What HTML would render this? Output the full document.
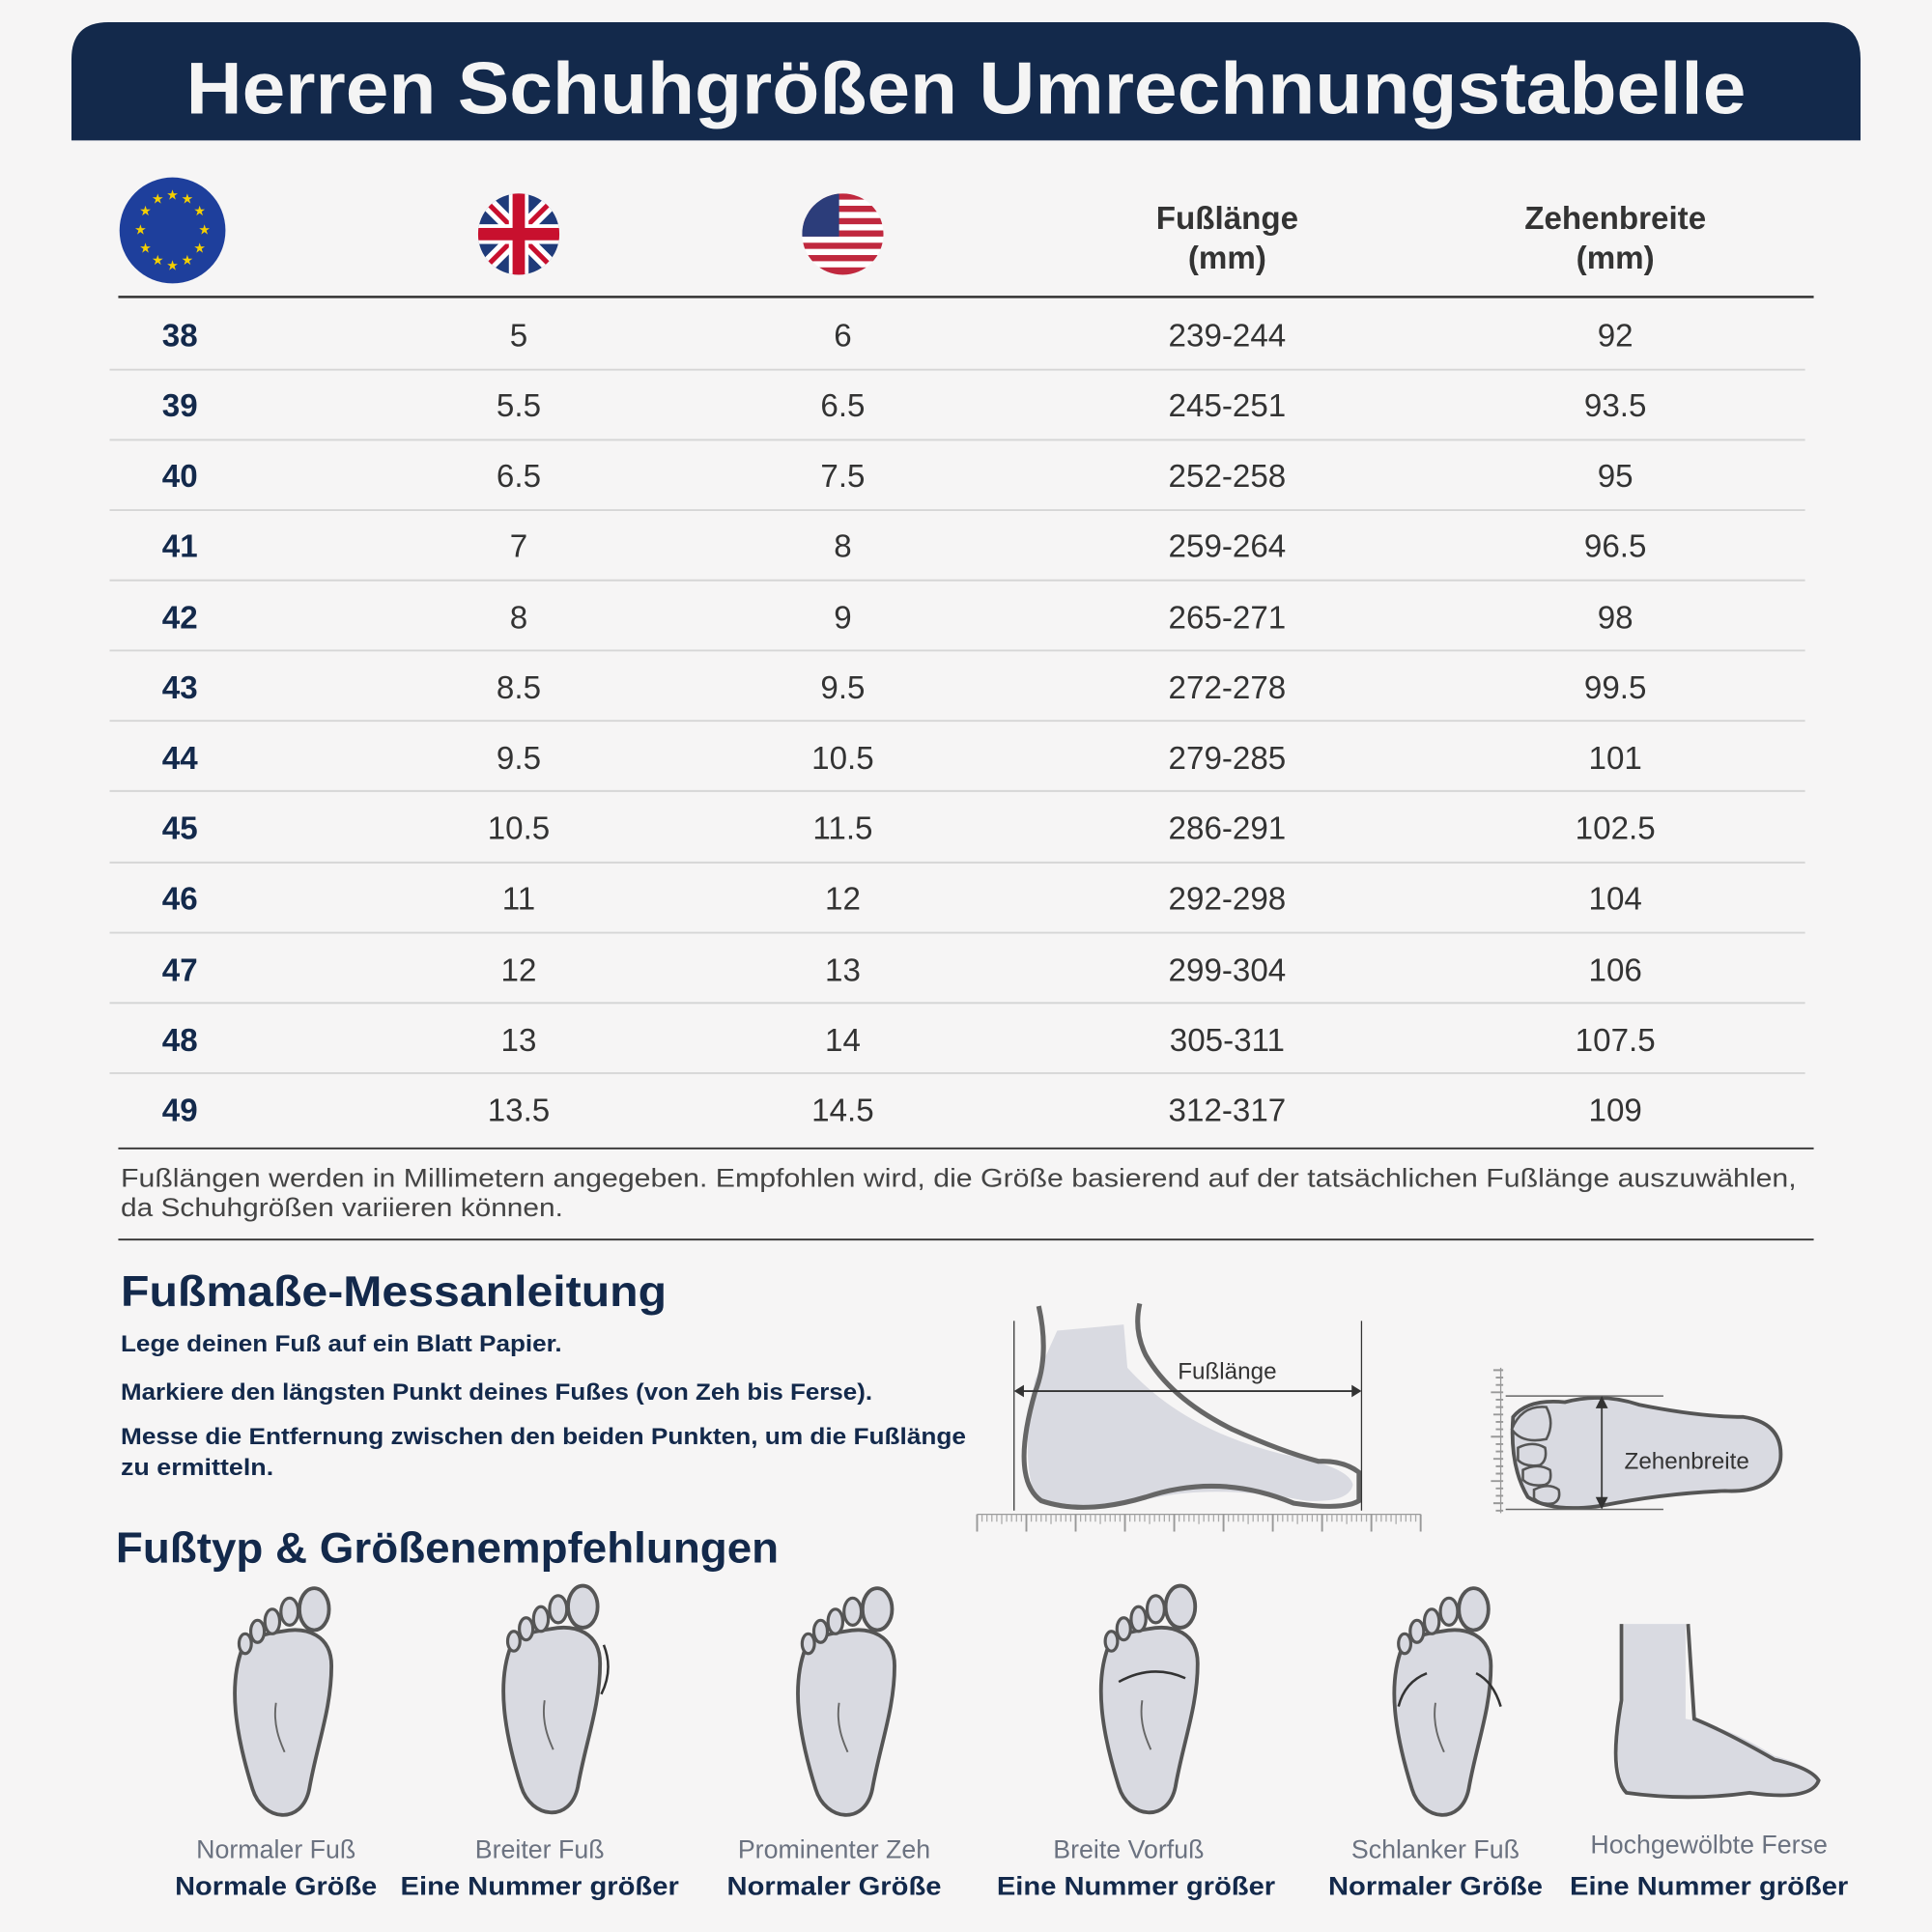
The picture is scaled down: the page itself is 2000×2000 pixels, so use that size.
<!DOCTYPE html>
<html><head><meta charset="utf-8"><style>
html,body{margin:0;padding:0;background:#f6f5f5;}
svg{display:block}
text{font-family:"Liberation Sans",sans-serif}
</style></head><body>
<svg width="2000" height="2000" viewBox="0 0 1568 1568" xmlns="http://www.w3.org/2000/svg">
<defs>
<clipPath id="cu"><circle cx="421" cy="190" r="33"/></clipPath>
<clipPath id="cs"><circle cx="684" cy="190" r="33"/></clipPath>
<g id="sole">
  <path d="M-32 45 C-44 75,-38 115,-24 160 C-16 186,16 190,22 160 C28 125,40 95,40 60 C40 35,20 28,0 32 C-15 34,-28 38,-32 45 Z" fill="#d9dae1" stroke="#555" stroke-width="3"/>
  <ellipse cx="26" cy="14" rx="12" ry="17" fill="#d9dae1" stroke="#555" stroke-width="3"/>
  <ellipse cx="6" cy="16" rx="7" ry="11" fill="#d9dae1" stroke="#555" stroke-width="2.5"/>
  <ellipse cx="-8" cy="24" rx="6" ry="10" fill="#d9dae1" stroke="#555" stroke-width="2.5"/>
  <ellipse cx="-20" cy="32" rx="5.5" ry="9" fill="#d9dae1" stroke="#555" stroke-width="2.5"/>
  <ellipse cx="-30" cy="42" rx="5" ry="8" fill="#d9dae1" stroke="#555" stroke-width="2.5"/>
  <path d="M-5 90 C-8 110,0 125,2 130" fill="none" stroke="#666" stroke-width="1.5"/>
</g>
</defs>
<rect width="1568" height="1568" fill="#f6f5f5"/>
<path d="M58 114 V48 Q58 18 88 18 H1480 Q1510 18 1510 48 V114 Z" fill="#13294b"/>
<text x="784" y="92" text-anchor="middle" font-size="60" font-weight="bold" fill="#f4f4f4" textLength="1266" lengthAdjust="spacingAndGlyphs">Herren Schuhgrößen Umrechnungstabelle</text>

<circle cx="140" cy="187" r="43" fill="#1e3f9c"/>
<g fill="#f5d000" font-size="11" text-anchor="middle">
<text x="140" y="162">★</text><text x="152" y="165">★</text><text x="162" y="175">★</text><text x="166" y="190">★</text><text x="162" y="205">★</text><text x="152" y="215">★</text><text x="140" y="219">★</text><text x="128" y="215">★</text><text x="118" y="205">★</text><text x="114" y="190">★</text><text x="118" y="175">★</text><text x="128" y="165">★</text>
</g>
<g clip-path="url(#cu)">
<rect x="388" y="157" width="66" height="66" fill="#1f3b7a"/>
<path d="M388 157 L454 223 M454 157 L388 223" stroke="#fff" stroke-width="12"/>
<path d="M388 157 L454 223 M454 157 L388 223" stroke="#c8102e" stroke-width="4"/>
<rect x="388" y="182" width="66" height="16" fill="#fff"/><rect x="413" y="157" width="16" height="66" fill="#fff"/>
<rect x="388" y="185" width="66" height="10" fill="#c8102e"/><rect x="416" y="157" width="10" height="66" fill="#c8102e"/>
</g>
<g clip-path="url(#cs)">
<rect x="651" y="157" width="66" height="66" fill="#fff"/>
<g fill="#c0283e"><rect x="651" y="157" width="66" height="5"/><rect x="651" y="167" width="66" height="5"/><rect x="651" y="177" width="66" height="5"/><rect x="651" y="187" width="66" height="5"/><rect x="651" y="197" width="66" height="5"/><rect x="651" y="207" width="66" height="5"/><rect x="651" y="217" width="66" height="6"/></g>
<rect x="651" y="157" width="30" height="35" fill="#2c3d7a"/>
</g>
<g font-size="26" font-weight="bold" fill="#333" text-anchor="middle">
<text x="996" y="186">Fußlänge</text><text x="996" y="218">(mm)</text>
<text x="1311" y="186">Zehenbreite</text><text x="1311" y="218">(mm)</text>
</g>
<line x1="96" y1="241" x2="1472" y2="241" stroke="#333" stroke-width="2"/>
<g stroke="#d6d6d6" stroke-width="1.5">
<line x1="89" y1="300" x2="1465" y2="300"/><line x1="89" y1="357" x2="1465" y2="357"/><line x1="89" y1="414" x2="1465" y2="414"/><line x1="89" y1="471" x2="1465" y2="471"/><line x1="89" y1="528" x2="1465" y2="528"/><line x1="89" y1="585" x2="1465" y2="585"/><line x1="89" y1="642" x2="1465" y2="642"/><line x1="89" y1="700" x2="1465" y2="700"/><line x1="89" y1="757" x2="1465" y2="757"/><line x1="89" y1="814" x2="1465" y2="814"/><line x1="89" y1="871" x2="1465" y2="871"/>
</g>
<g font-size="26" font-weight="bold" fill="#13294b" text-anchor="middle">
<text x="146" y="281">38</text><text x="146" y="338">39</text><text x="146" y="395">40</text><text x="146" y="452">41</text><text x="146" y="510">42</text><text x="146" y="567">43</text><text x="146" y="624">44</text><text x="146" y="681">45</text><text x="146" y="738">46</text><text x="146" y="796">47</text><text x="146" y="853">48</text><text x="146" y="910">49</text>
</g>
<g font-size="26" fill="#333" text-anchor="middle">
<text x="421" y="281">5</text><text x="684" y="281">6</text><text x="996" y="281">239-244</text><text x="1311" y="281">92</text>
<text x="421" y="338">5.5</text><text x="684" y="338">6.5</text><text x="996" y="338">245-251</text><text x="1311" y="338">93.5</text>
<text x="421" y="395">6.5</text><text x="684" y="395">7.5</text><text x="996" y="395">252-258</text><text x="1311" y="395">95</text>
<text x="421" y="452">7</text><text x="684" y="452">8</text><text x="996" y="452">259-264</text><text x="1311" y="452">96.5</text>
<text x="421" y="510">8</text><text x="684" y="510">9</text><text x="996" y="510">265-271</text><text x="1311" y="510">98</text>
<text x="421" y="567">8.5</text><text x="684" y="567">9.5</text><text x="996" y="567">272-278</text><text x="1311" y="567">99.5</text>
<text x="421" y="624">9.5</text><text x="684" y="624">10.5</text><text x="996" y="624">279-285</text><text x="1311" y="624">101</text>
<text x="421" y="681">10.5</text><text x="684" y="681">11.5</text><text x="996" y="681">286-291</text><text x="1311" y="681">102.5</text>
<text x="421" y="738">11</text><text x="684" y="738">12</text><text x="996" y="738">292-298</text><text x="1311" y="738">104</text>
<text x="421" y="796">12</text><text x="684" y="796">13</text><text x="996" y="796">299-304</text><text x="1311" y="796">106</text>
<text x="421" y="853">13</text><text x="684" y="853">14</text><text x="996" y="853">305-311</text><text x="1311" y="853">107.5</text>
<text x="421" y="910">13.5</text><text x="684" y="910">14.5</text><text x="996" y="910">312-317</text><text x="1311" y="910">109</text>
</g>
<line x1="96" y1="932" x2="1472" y2="932" stroke="#333" stroke-width="1.5"/>
<g font-size="21" fill="#444">
<text x="98" y="963" textLength="1360" lengthAdjust="spacingAndGlyphs">Fußlängen werden in Millimetern angegeben. Empfohlen wird, die Größe basierend auf der tatsächlichen Fußlänge auszuwählen,</text>
<text x="98" y="987" textLength="359" lengthAdjust="spacingAndGlyphs">da Schuhgrößen variieren können.</text>
</g>
<line x1="96" y1="1006" x2="1472" y2="1006" stroke="#333" stroke-width="1.5"/>
<text x="98" y="1060" font-size="35" font-weight="bold" fill="#13294b" textLength="443" lengthAdjust="spacingAndGlyphs">Fußmaße-Messanleitung</text>
<g font-size="19" font-weight="bold" fill="#13294b">
<text x="98" y="1097" textLength="358" lengthAdjust="spacingAndGlyphs">Lege deinen Fuß auf ein Blatt Papier.</text>
<text x="98" y="1136" textLength="610" lengthAdjust="spacingAndGlyphs">Markiere den längsten Punkt deines Fußes (von Zeh bis Ferse).</text>
<text x="98" y="1172" textLength="686" lengthAdjust="spacingAndGlyphs">Messe die Entfernung zwischen den beiden Punkten, um die Fußlänge</text>
<text x="98" y="1197" textLength="124" lengthAdjust="spacingAndGlyphs">zu ermitteln.</text>
</g>
<!-- side foot -->
<path d="M858 1080 L912 1075 L915 1110 Q960 1160 1040 1180 Q1095 1190 1098 1205 Q1095 1220 1060 1218 Q990 1205 940 1215 Q880 1228 840 1215 Q828 1180 840 1120 Z" fill="#d9dae1"/>
<path d="M843 1060 Q852 1100 840 1130 Q820 1200 845 1218 Q880 1230 930 1215 Q990 1195 1050 1220 Q1090 1226 1103 1218 L1103 1195 Q1090 1185 1070 1186 Q1040 1178 1000 1160 Q950 1135 930 1100 Q920 1080 925 1058" fill="none" stroke="#666" stroke-width="4"/>
<line x1="823" y1="1072" x2="823" y2="1226" stroke="#333" stroke-width="1"/>
<line x1="1105" y1="1072" x2="1105" y2="1226" stroke="#333" stroke-width="1"/>
<line x1="826" y1="1129" x2="1102" y2="1129" stroke="#333" stroke-width="1.5"/>
<path d="M823 1129 l8 -5 v10 z M1105 1129 l-8 -5 v10 z" fill="#333"/>
<text x="996" y="1119" font-size="19" fill="#333" text-anchor="middle">Fußlänge</text>
<line x1="793" y1="1229" x2="1153" y2="1229" stroke="#999" stroke-width="1"/>
<path d="M793 1229 V1243 M833 1229 V1243 M873 1229 V1243 M913 1229 V1243 M953 1229 V1243 M993 1229 V1243 M1033 1229 V1243 M1073 1229 V1243 M1113 1229 V1243 M1153 1229 V1243" stroke="#999" stroke-width="1.5"/>
<path d="M797 1229v6M801 1229v6M805 1229v6M809 1229v6M813 1229v8M817 1229v6M821 1229v6M825 1229v6M829 1229v6M837 1229v6M841 1229v6M845 1229v6M849 1229v6M853 1229v8M857 1229v6M861 1229v6M865 1229v6M869 1229v6M877 1229v6M881 1229v6M885 1229v6M889 1229v6M893 1229v8M897 1229v6M901 1229v6M905 1229v6M909 1229v6M917 1229v6M921 1229v6M925 1229v6M929 1229v6M933 1229v8M937 1229v6M941 1229v6M945 1229v6M949 1229v6M957 1229v6M961 1229v6M965 1229v6M969 1229v6M973 1229v8M977 1229v6M981 1229v6M985 1229v6M989 1229v6M997 1229v6M1001 1229v6M1005 1229v6M1009 1229v6M1013 1229v8M1017 1229v6M1021 1229v6M1025 1229v6M1029 1229v6M1037 1229v6M1041 1229v6M1045 1229v6M1049 1229v6M1053 1229v8M1057 1229v6M1061 1229v6M1065 1229v6M1069 1229v6M1077 1229v6M1081 1229v6M1085 1229v6M1089 1229v6M1093 1229v8M1097 1229v6M1101 1229v6M1105 1229v6M1109 1229v6M1117 1229v6M1121 1229v6M1125 1229v6M1129 1229v6M1133 1229v8M1137 1229v6M1141 1229v6M1145 1229v6M1149 1229v6" stroke="#aaa" stroke-width="1"/>
<!-- top foot -->
<path d="M1228 1150 Q1240 1135 1270 1138 Q1300 1130 1330 1140 Q1380 1150 1415 1150 Q1448 1155 1445 1185 Q1440 1212 1400 1210 Q1350 1212 1300 1222 Q1260 1228 1240 1215 Q1225 1190 1228 1150 Z" fill="#d9dae1" stroke="#555" stroke-width="3"/>
<path d="M1227 1160 Q1235 1140 1255 1142 Q1262 1155 1255 1168 Q1235 1172 1227 1160Z M1232 1175 q12-6 22 0 q2 10-4 14 q-12 2-18-4z M1236 1193 q12-6 22 0 q2 10-4 12 q-12 2-18-4z M1245 1209 q12-6 20 0 q2 8-4 11 q-10 2-16-4z" fill="#d9dae1" stroke="#555" stroke-width="2"/>
<path d="M1218 1110 V1228" stroke="#999" stroke-width="1"/>
<path d="M1212 1112h8M1214 1118h6M1214 1124h6M1210 1130h10M1214 1136h6M1214 1142h6M1212 1148h8M1214 1154h6M1214 1160h6M1210 1166h10M1214 1172h6M1214 1178h6M1212 1184h8M1214 1190h6M1214 1196h6M1210 1202h10M1214 1208h6M1214 1214h6M1212 1220h8M1214 1226h6" stroke="#999" stroke-width="1.5"/>
<line x1="1222" y1="1133" x2="1350" y2="1133" stroke="#666" stroke-width="1.2"/>
<line x1="1222" y1="1225" x2="1350" y2="1225" stroke="#666" stroke-width="1.2"/>
<line x1="1300" y1="1136" x2="1300" y2="1222" stroke="#444" stroke-width="1.5"/>
<path d="M1300 1133 l-5 10 h10 z M1300 1225 l-5 -10 h10 z" fill="#333"/>
<text x="1369" y="1192" font-size="19" fill="#333" text-anchor="middle">Zehenbreite</text>

<text x="94" y="1268" font-size="35" font-weight="bold" fill="#13294b" textLength="538" lengthAdjust="spacingAndGlyphs">Fußtyp &amp; Größenempfehlungen</text>
<use href="#sole" transform="translate(229,1292)"/>
<use href="#sole" transform="translate(447,1290)"/>
<path d="M488 1375 Q498 1355 490 1335" fill="none" stroke="#333" stroke-width="2"/>
<use href="#sole" transform="translate(686,1292)"/>
<use href="#sole" transform="translate(932,1290)"/>
<path d="M908 1365 Q935 1350 962 1362" fill="none" stroke="#333" stroke-width="2"/>
<use href="#sole" transform="translate(1170,1292)"/>
<path d="M1135 1385 Q1140 1365 1158 1358 M1218 1385 Q1212 1365 1198 1358" fill="none" stroke="#333" stroke-width="2"/>
<path d="M1318 1318 H1368 V1395 Q1400 1400 1440 1425 Q1478 1435 1475 1450 Q1465 1460 1420 1455 Q1360 1460 1318 1455 Q1308 1420 1318 1380 Z" fill="#d9dae1"/>
<path d="M1316 1318 V1380 Q1305 1440 1320 1455 Q1370 1462 1420 1455 Q1470 1462 1476 1445 Q1470 1435 1440 1428 Q1400 1405 1375 1395 L1370 1318" fill="none" stroke="#555" stroke-width="3"/>
<g font-size="21" fill="#6b7280" text-anchor="middle">
<text x="224" y="1508">Normaler Fuß</text><text x="438" y="1508">Breiter Fuß</text><text x="677" y="1508">Prominenter Zeh</text><text x="916" y="1508">Breite Vorfuß</text><text x="1165" y="1508">Schlanker Fuß</text><text x="1387" y="1504">Hochgewölbte Ferse</text>
</g>
<g font-size="21" font-weight="bold" fill="#13294b" text-anchor="middle">
<text x="224" y="1538" textLength="164" lengthAdjust="spacingAndGlyphs">Normale Größe</text><text x="438" y="1538" textLength="226" lengthAdjust="spacingAndGlyphs">Eine Nummer größer</text><text x="677" y="1538" textLength="174" lengthAdjust="spacingAndGlyphs">Normaler Größe</text><text x="922" y="1538" textLength="226" lengthAdjust="spacingAndGlyphs">Eine Nummer größer</text><text x="1165" y="1538" textLength="174" lengthAdjust="spacingAndGlyphs">Normaler Größe</text><text x="1387" y="1538" textLength="226" lengthAdjust="spacingAndGlyphs">Eine Nummer größer</text>
</g>
</svg>
</body></html>
